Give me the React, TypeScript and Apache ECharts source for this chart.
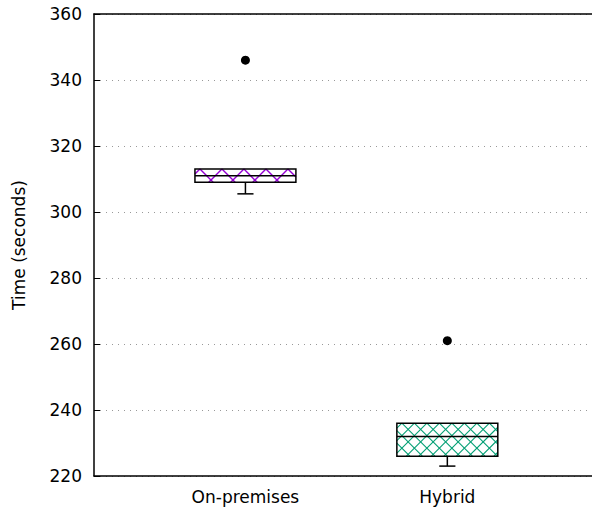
import React, { useEffect, useRef } from "react";
import * as echarts from "echarts";

const categories = ["On-premises", "Hybrid"];
const categoryPositions = [1, 2];
// [min, q1, median, q3, max]
const boxStats = [
  [305.5, 309, 311, 313, 313],
  [223, 226, 232, 236, 236],
];
const outliers = [
  [1, 346],
  [2, 261],
];
const yTicks = { min: 220, max: 360, interval: 20 };

const hatchColors = ["#9400d3", "#009e73"];
const hatchPeriods = [22, 12.5];
const hatchWidths = [1.4, 1.1];

export default function App() {
  const ref = useRef<HTMLDivElement>(null);
  useEffect(() => {
    if (!ref.current) return;
    const chart = echarts.init(ref.current, null, { renderer: "svg" });
    const font = "DejaVu Sans";
    const boxData = categoryPositions.map((x, i) => [x, ...boxStats[i], i]);

    const renderItem = (params: any, api: any) => {
      const x = api.value(0);
      const mn = api.value(1);
      const q1 = api.value(2);
      const med = api.value(3);
      const q3 = api.value(4);
      const mx = api.value(5);
      const idx = api.value(6);
      const halfW = api.size([0.5, 0])[0] / 2;
      const capHalf = api.size([0.08, 0])[0] / 2;
      const pTop = api.coord([x, q3]);
      const pBot = api.coord([x, q1]);
      const pMed = api.coord([x, med]);
      const pMin = api.coord([x, mn]);
      const pMax = api.coord([x, mx]);
      const cx = pTop[0];
      const x0 = cx - halfW;
      const x1 = cx + halfW;
      const y0 = pTop[1];
      const y1 = pBot[1];
      const children: any[] = [];
      const period = hatchPeriods[idx];
      const color = hatchColors[idx];
      const lineStyle: any = { stroke: color, lineWidth: hatchWidths[idx], fill: null };
      // family A: x + y = c
      const anchorA = x0 + 5 + y0;
      const startK = Math.floor((x0 + y0 - anchorA) / period) - 1;
      const endK = Math.ceil((x1 + y1 - anchorA) / period) + 1;
      for (let k = startK; k <= endK; k++) {
        const c = anchorA + k * period;
        const xa = Math.max(x0, c - y1);
        const xb = Math.min(x1, c - y0);
        if (xb > xa) {
          children.push({
            type: "line",
            shape: { x1: xa, y1: c - xa, x2: xb, y2: c - xb },
            style: lineStyle,
          });
        }
      }
      // family B: x - y = c
      const anchorB = x0 + 5 - y0;
      const sK = Math.floor((x0 - y1 - anchorB) / period) - 1;
      const eK = Math.ceil((x1 - y0 - anchorB) / period) + 1;
      for (let k = sK; k <= eK; k++) {
        const c = anchorB + k * period;
        const xa = Math.max(x0, c + y0);
        const xb = Math.min(x1, c + y1);
        if (xb > xa) {
          children.push({
            type: "line",
            shape: { x1: xa, y1: xa - c, x2: xb, y2: xb - c },
            style: lineStyle,
          });
        }
      }
      const black = { stroke: "#000", lineWidth: 1.5, fill: null };
      children.push({
        type: "rect",
        shape: { x: x0, y: y0, width: x1 - x0, height: y1 - y0 },
        style: { fill: "none", stroke: "#000", lineWidth: 1.5 },
      });
      children.push({
        type: "line",
        shape: { x1: x0, y1: pMed[1], x2: x1, y2: pMed[1] },
        style: black,
      });
      if (pMin[1] > y1 + 0.5) {
        children.push({
          type: "line",
          shape: { x1: cx, y1: y1, x2: cx, y2: pMin[1] },
          style: black,
        });
        children.push({
          type: "line",
          shape: { x1: cx - capHalf, y1: pMin[1], x2: cx + capHalf, y2: pMin[1] },
          style: black,
        });
      }
      if (pMax[1] < y0 - 0.5) {
        children.push({
          type: "line",
          shape: { x1: cx, y1: y0, x2: cx, y2: pMax[1] },
          style: black,
        });
        children.push({
          type: "line",
          shape: { x1: cx - capHalf, y1: pMax[1], x2: cx + capHalf, y2: pMax[1] },
          style: black,
        });
      }
      return { type: "group", children };
    };

    const xRange = { min: 0.25, max: 2.7165 };

    chart.setOption({
      animation: false,
      grid: {
        left: 94,
        right: 0,
        top: 14,
        bottom: 34,
        show: false,
      },
      xAxis: [
        {
          type: "value",
          min: xRange.min,
          max: xRange.max,
          interval: 0.25,
          axisLine: { show: true, onZero: false, lineStyle: { color: "#000", width: 1.5 } },
          axisTick: { show: false },
          splitLine: { show: false },
          axisLabel: {
            color: "#000",
            fontFamily: font,
            fontSize: 17,
            margin: 12,
            showMinLabel: true,
            showMaxLabel: false,
            formatter: (v: number) => {
              const i = categoryPositions.findIndex((p) => Math.abs(p - v) < 1e-6);
              return i >= 0 ? categories[i] : "";
            },
          },
        },
        {
          type: "value",
          position: "top",
          min: xRange.min,
          max: xRange.max,
          interval: 0.25,
          axisLine: { show: true, onZero: false, lineStyle: { color: "#000", width: 1.5 } },
          axisTick: { show: false },
          splitLine: { show: false },
          axisLabel: { show: false },
        },
      ],
      yAxis: {
        type: "value",
        min: yTicks.min,
        max: yTicks.max,
        interval: yTicks.interval,
        name: "Time (seconds)",
        nameLocation: "middle",
        nameGap: 67,
        nameTextStyle: { color: "#000", fontFamily: font, fontSize: 17 },
        axisLine: { show: true, onZero: false, lineStyle: { color: "#000", width: 1.5 } },
        axisTick: { show: true, inside: true, length: 6, lineStyle: { color: "#000", width: 1 } },
        axisLabel: { color: "#000", fontFamily: font, fontSize: 17, margin: 12 },
        splitLine: {
          show: true,
          lineStyle: { color: "#999", width: 1, type: [1, 5] },
        },
      },
      series: [
        {
          type: "custom",
          renderItem,
          data: boxData,
          encode: { x: 0, y: [1, 2, 3, 4, 5] },
          z: 3,
        },
        {
          type: "scatter",
          data: outliers,
          symbol: "circle",
          symbolSize: 9,
          itemStyle: { color: "#000", opacity: 1 },
          z: 4,
        },
      ],
    });
    return () => chart.dispose();
  }, []);
  return (
    <div
      ref={ref}
      style={{ position: "fixed", left: 0, top: 0, width: 592, height: 510, background: "#fff" }}
    />
  );
}
